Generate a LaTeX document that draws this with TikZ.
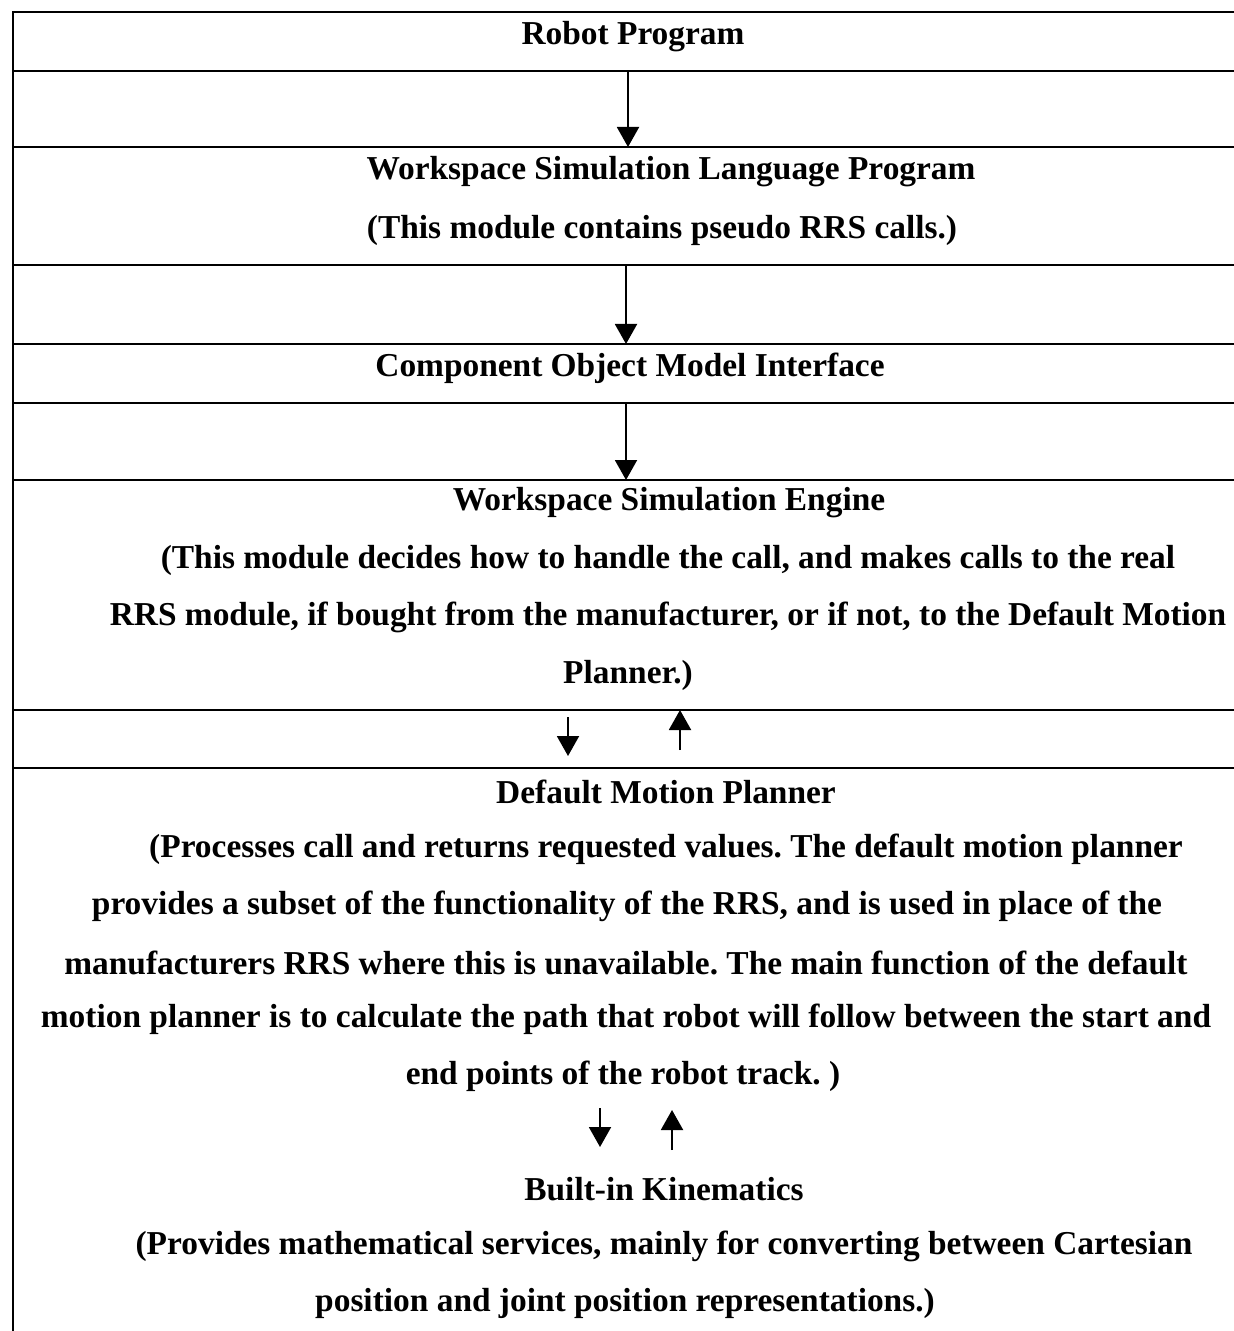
\documentclass[tikz,border=0pt]{standalone}
\usepackage{fontspec}
\setmainfont{Liberation Serif}
\usetikzlibrary{arrows.meta}
\frenchspacing
\begin{document}
\begin{tikzpicture}[x=0.5pt,y=-0.5pt,
  rule/.style={line width=1.2pt},
  conn/.style={line width=1pt,-{Triangle[width=11pt,length=10pt]}},
  txt/.style={font=\fontsize{16.7pt}{19pt}\selectfont\bfseries,inner sep=0pt,anchor=center}]
\useasboundingbox (0,0) rectangle (1234,1331);
% frame
\draw[rule] (13,1331) -- (13,12) -- (1234,12);
\foreach \y in {71,147,265,344,403,480,710,768}
  \draw[rule] (13,\y) -- (1234,\y);
% texts
\node[txt] (rp) at (633,37) {Robot Program};
\node[txt] (wslp) at (671,172) {Workspace Simulation Language Program};
\node[txt] (wslp2) at (662,230) {(This module contains pseudo RRS calls.)};
\node[txt] (com) at (630,368) {Component Object Model Interface};
\node[txt] (wse) at (669,503) {Workspace Simulation Engine};
\node[txt] (wse1) at (668,560) {(This module decides how to handle the call, and makes calls to the real};
\node[txt] (wse2) at (668,617) {RRS module, if bought from the manufacturer, or if not, to the Default Motion};
\node[txt] (wse3) at (628,675) {Planner.)};
\node[txt] (dmp) at (666,792) {Default Motion Planner};
\node[txt] (dmp1) at (666,849) {(Processes call and returns requested values. The default motion planner};
\node[txt] (dmp2) at (627,906) {provides a subset of the functionality of the RRS, and is used in place of the};
\node[txt] (dmp3) at (626,963) {manufacturers RRS where this is unavailable. The main function of the default};
\node[txt] (dmp4) at (626,1019) {motion planner is to calculate the path that robot will follow between the start and};
\node[txt] (dmp5) at (623,1076) {end points of the robot track. )};
\node[txt] (bik) at (664,1189) {Built-in Kinematics};
\node[txt] (bik1) at (664,1246) {(Provides mathematical services, mainly for converting between Cartesian};
\node[txt] (bik2) at (625,1303) {position and joint position representations.)};
% arrow coordinates
\coordinate (a1s) at (628,71);  \coordinate (a1e) at (628,147);
\coordinate (a2s) at (626,265); \coordinate (a2e) at (626,344);
\coordinate (a3s) at (626,403); \coordinate (a3e) at (626,480);
\coordinate (a4s) at (568,717); \coordinate (a4e) at (568,756);
\coordinate (a5s) at (680,750); \coordinate (a5e) at (680,710);
\coordinate (a6s) at (600,1108); \coordinate (a6e) at (600,1147);
\coordinate (a7s) at (672,1150); \coordinate (a7e) at (672,1110);
\draw[conn] (a1s) -- (a1e);
\draw[conn] (a2s) -- (a2e);
\draw[conn] (a3s) -- (a3e);
\draw[conn] (a4s) -- (a4e);
\draw[conn] (a5s) -- (a5e);
\draw[conn] (a6s) -- (a6e);
\draw[conn] (a7s) -- (a7e);
\end{tikzpicture}
\end{document}
